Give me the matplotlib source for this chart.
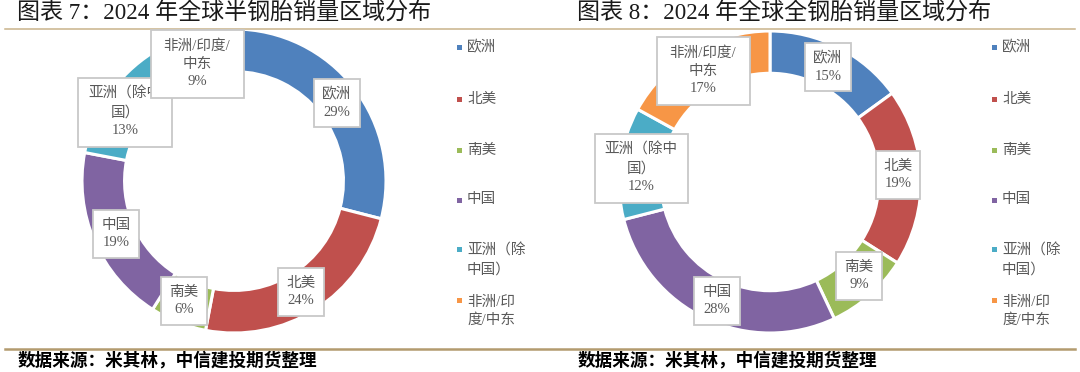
import matplotlib.pyplot as plt
from matplotlib.patches import Rectangle

plt.rcParams['font.family'] = ['Noto Sans CJK SC', 'DejaVu Sans']

# data
regions = ['欧洲', '北美', '南美', '中国', '亚洲（除中国）', '非洲/印度/中东']
legend_txt = ['欧洲', '北美', '南美', '中国', '亚洲（除\n中国）', '非洲/印\n度/中东']
label_txt = ['欧洲', '北美', '南美', '中国', '亚洲（除中\n国）', '非洲/印度/\n中东']
semi_share = [29, 24, 6, 19, 13, 9]
full_share = [15, 19, 9, 28, 12, 17]
titles = ['图表 7：2024 年全球半钢胎销量区域分布', '图表 8：2024 年全球全钢胎销量区域分布']
source = '数据来源：米其林，中信建投期货整理'

colors = ['#4F81BD', '#C0504D', '#9BBB59', '#8064A2', '#4BACC6', '#F79646']
W, H = 1080, 372
mixed = ['Liberation Serif', 'Noto Sans CJK SC']

fig = plt.figure(figsize=(W / 100, H / 100), dpi=100)
fig.patch.set_facecolor('white')

# overlay axes in pixel coords for texts/lines/boxes
ov = fig.add_axes([0, 0, 1, 1], zorder=5)
ov.set_xlim(0, W)
ov.set_ylim(H, 0)
ov.axis('off')
ov.patch.set_alpha(0)


def donut(cx, cy, r, vals):
    ax = fig.add_axes([(cx - r) / W, (H - cy - r) / H, 2 * r / W, 2 * r / H], zorder=1)
    ax.pie(vals, colors=colors, startangle=90, counterclock=False, radius=1,
           wedgeprops=dict(width=0.28, edgecolor='white', linewidth=2.2))
    ax.set_xlim(-1, 1)
    ax.set_ylim(-1, 1)
    ax.axis('off')


donut(234, 181, 152, semi_share)
donut(770, 182, 151, full_share)

# label boxes: (center x, center y, w, h), drawn in list order
semi_boxes = [(337, 103, 46, 48), (301, 292, 46, 48), (184, 301, 46, 48),
              (116, 234, 46, 48), (125, 112, 94, 69), (197, 64, 93, 68)]
full_boxes = [(828, 67, 46, 48), (898, 175, 44, 48), (859, 276, 46, 48),
              (717, 301, 46, 48), (641, 168, 93, 69), (703, 71, 93, 68)]

z = 10
for boxes, vals in [(semi_boxes, semi_share), (full_boxes, full_share)]:
    for (bx, by, bw, bh), lab, v in zip(boxes, label_txt, vals):
        ov.add_patch(Rectangle((bx - bw / 2, by - bh / 2), bw, bh, facecolor='white',
                               edgecolor='#C8C8C8', linewidth=1.3, zorder=z))
        ov.text(bx, by, f'{lab}\n{v}%', ha='center', va='center', fontsize=10.5,
                color='#595959', linespacing=1.45, zorder=z + 1, family=mixed)
        z += 2

# legends
leg_y = [47, 99, 150, 200, 260, 311]
for mx in [459, 994]:
    for c, t, y in zip(colors, legend_txt, leg_y):
        ov.add_patch(Rectangle((mx - 2, (y if '\n' not in t else y - 11) - 2), 4.5, 4.5,
                               facecolor=c, edgecolor='none', zorder=3))
        ov.text(mx + 8, y, t, ha='left', va='center', fontsize=10.5, color='#595959',
                linespacing=1.4, family=mixed)

# titles and rules
for tx, t in zip([17, 577], titles):
    ov.text(tx, 14, t, ha='left', va='center', fontsize=16.6, color='#1A1A1A',
            family=mixed)
    ov.text(tx + 1, 360, source, ha='left', va='center', fontsize=12.7,
            fontweight='bold', color='black')
ov.plot([5, 1075], [28.5, 28.5], color='#C9B38A', lw=1.1, zorder=2)
ov.plot([5, 1075], [349, 349], color='#B39B6E', lw=1.8, zorder=2)

fig.savefig('out.png', dpi=100, facecolor='white')
